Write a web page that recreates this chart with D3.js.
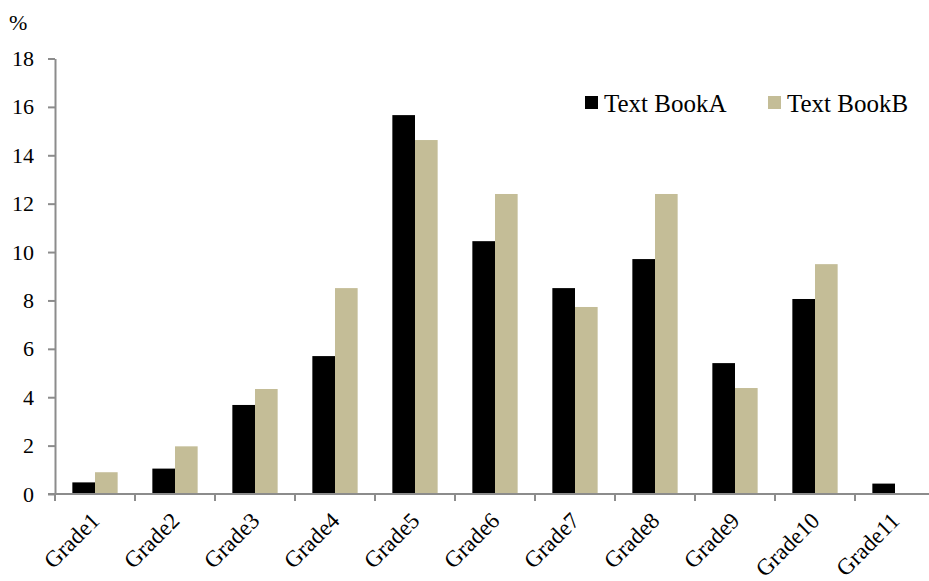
<!DOCTYPE html>
<html>
<head>
<meta charset="utf-8">
<script src="https://cdn.jsdelivr.net/npm/d3@7"></script>
<style>
  html, body { margin: 0; padding: 0; background: #fff; }
  svg { display: block; }
  svg text { font-family: "Liberation Serif", "Times New Roman", serif; }
</style>
</head>
<body>
<svg id="chart" width="929" height="581"></svg>
<script>
// Share of items per grade level in two textbooks (%)
const categories = ["Grade1", "Grade2", "Grade3", "Grade4", "Grade5", "Grade6",
                    "Grade7", "Grade8", "Grade9", "Grade10", "Grade11"];
const seriesNames = ["Text BookA", "Text BookB"];
const textBookA = [0.48, 1.05, 3.68, 5.7, 15.66, 10.45, 8.51, 9.71, 5.41, 8.06, 0.43];
const textBookB = [0.9, 1.97, 4.34, 8.51, 14.63, 12.4, 7.73, 12.4, 4.38, 9.5, 0];
const yTicks = [0, 2, 4, 6, 8, 10, 12, 14, 16, 18];
const colors = ["#000000", "#C4BD97"];

const svg = d3.select("#chart");
const axisColor = "#8c8c8c";
const serif = "'Liberation Serif', 'Times New Roman', serif";

const x0 = d3.scaleBand().domain(categories).range([55, 935]).padding(0);
const x1 = d3.scaleBand().domain([0, 1]).range([0, x0.bandwidth()])
  .paddingInner(0).paddingOuter(0.766);
const y = d3.scaleLinear().domain([0, 18]).range([494, 58.5]);

// bars
const groups = svg.append("g").selectAll("g")
  .data(categories)
  .join("g")
  .attr("transform", d => `translate(${x0(d)},0)`);

groups.selectAll("rect")
  .data((d, i) => [textBookA[i], textBookB[i]].map((v, s) => ({ v, s })))
  .join("rect")
  .filter(d => d.v > 0)
  .attr("x", d => x1(d.s))
  .attr("width", x1.bandwidth())
  .attr("y", d => y(d.v))
  .attr("height", d => y(0) - y(d.v))
  .attr("fill", d => colors[d.s]);

// y axis
const yAxis = svg.append("g")
  .attr("transform", "translate(55,0)")
  .call(d3.axisLeft(y).tickValues(yTicks).tickSize(7).tickSizeOuter(0).tickPadding(14))
  .attr("font-family", serif)
  .attr("font-size", 22);
yAxis.select(".domain").attr("stroke", axisColor).attr("stroke-width", 2);
yAxis.selectAll(".tick line").attr("stroke", axisColor).attr("stroke-width", 2);
yAxis.selectAll(".tick text").attr("fill", "#000");

// x axis: line and ticks at the category boundaries
const xg = svg.append("g");
xg.append("line")
  .attr("x1", 48).attr("x2", 929)
  .attr("y1", y(0)).attr("y2", y(0))
  .attr("stroke", axisColor).attr("stroke-width", 2);
xg.selectAll("line.tick")
  .data(categories)
  .join("line")
  .attr("class", "tick")
  .attr("x1", d => x0(d)).attr("x2", d => x0(d))
  .attr("y1", y(0)).attr("y2", y(0) + 7)
  .attr("stroke", axisColor).attr("stroke-width", 2);

xg.selectAll("text")
  .data(categories)
  .join("text")
  .attr("text-anchor", "end")
  .attr("transform", d => `translate(${x0(d) + x0.bandwidth() / 2 + 6},${y(0) + 28}) rotate(-45)`)
  .attr("font-family", serif)
  .attr("font-size", 23)
  .attr("fill", "#000")
  .text(d => d);

// unit label
svg.append("text")
  .attr("x", 9).attr("y", 30)
  .attr("font-family", serif)
  .attr("font-size", 22)
  .text("%");

// legend
const legend = svg.append("g");
const lx = [585, 768];
seriesNames.forEach((name, i) => {
  legend.append("rect")
    .attr("x", lx[i]).attr("y", 96)
    .attr("width", 13).attr("height", 13)
    .attr("fill", colors[i]);
  legend.append("text")
    .attr("x", lx[i] + 19).attr("y", 112)
    .attr("font-family", serif)
    .attr("font-size", 25)
    .text(name);
});
</script>
</body>
</html>
